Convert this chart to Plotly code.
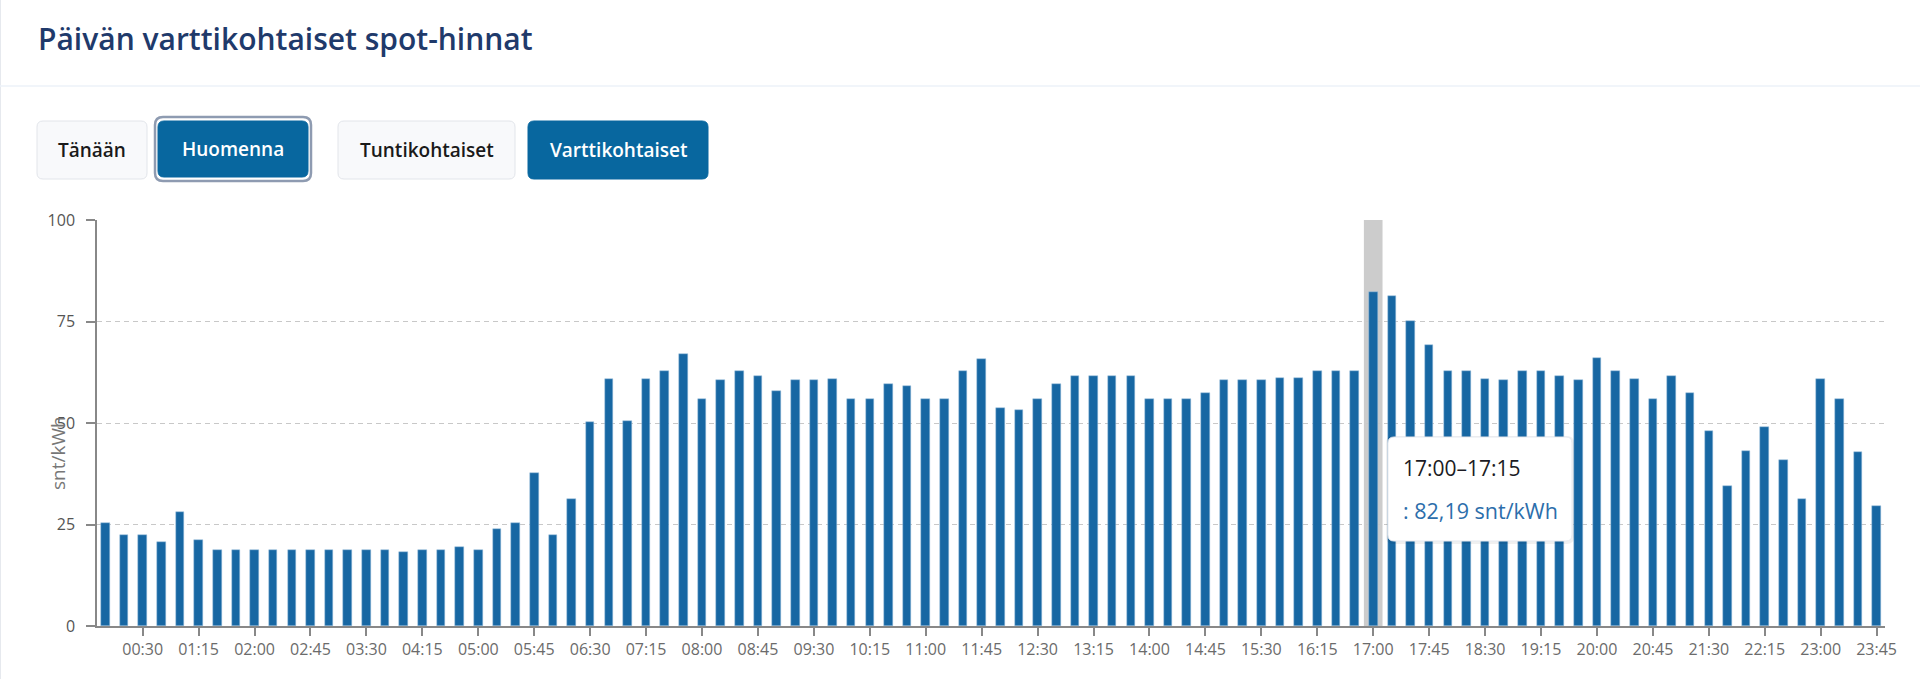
import plotly.graph_objects as go

# ---------------- data ----------------
times = [f"{h:02d}:{m:02d}" for h in range(24) for m in (0, 15, 30, 45)]

prices = [
    25.4, 22.4, 22.3, 20.6, 28.1, 21.1, 18.8, 18.8,   # 00:00-01:45
    18.8, 18.8, 18.8, 18.8, 18.8, 18.8, 18.8, 18.8,   # 02:00-03:45
    18.2, 18.8, 18.8, 19.5, 18.8, 23.8, 25.3, 37.6,   # 04:00-05:45
    22.3, 31.4, 50.2, 60.9, 50.6, 60.9, 62.7, 66.9,   # 06:00-07:45
    55.8, 60.7, 62.7, 61.5, 57.9, 60.7, 60.7, 60.9,   # 08:00-09:45
    55.8, 55.8, 59.6, 59.0, 55.8, 55.8, 62.8, 65.7,   # 10:00-11:45
    53.6, 53.2, 55.8, 59.6, 61.5, 61.5, 61.5, 61.5,   # 12:00-13:45
    55.8, 55.8, 55.8, 57.3, 60.6, 60.7, 60.7, 61.0,   # 14:00-15:45
    61.0, 62.7, 62.7, 62.9, 82.19, 81.4, 75.2, 69.3,  # 16:00-17:45
    62.7, 62.7, 60.9, 60.6, 62.8, 62.7, 61.5, 60.7,   # 18:00-19:45
    66.1, 62.7, 60.9, 55.8, 61.7, 57.4, 48.1, 34.4,   # 20:00-21:45
    43.2, 48.9, 40.8, 31.4, 60.9, 55.8, 42.9, 29.5,   # 22:00-23:45
]

xtick_labels = times[2::3]
ytick_values = [0, 25, 50, 75, 100]

title_text = "Päivän varttikohtaiset spot-hinnat"
buttons = ["Tänään", "Huomenna", "Tuntikohtaiset", "Varttikohtaiset"]
active_buttons = ["Huomenna", "Varttikohtaiset"]
unit_label = "snt/kWh"
highlight_time = "17:00"
tooltip_title = "17:00–17:15"

# ---------------- geometry helpers ----------------
FW, FH = 1920, 679
L, R, T, B = 97, 35, 220, 53
W = FW - L - R
H = FH - T - B

def xp(px):
    return (px - L) / W

def yp(py):
    return (T + H - py) / H

def rrect(x0, y0, x1, y1, r):
    a, b, c, d = xp(x0), xp(x1), yp(y0), yp(y1)
    rx, ry = r / W, r / H
    return (f"M {a+rx},{c} L {b-rx},{c} Q {b},{c} {b},{c-ry} L {b},{d+ry} "
            f"Q {b},{d} {b-rx},{d} L {a+rx},{d} Q {a},{d} {a},{d+ry} "
            f"L {a},{c-ry} Q {a},{c} {a+rx},{c} Z")

FONT = "Open Sans, Noto Sans, sans-serif"

fig = go.Figure()
fig.add_trace(go.Bar(
    x=times, y=prices, width=0.46,
    marker=dict(color="#1767a3", line=dict(color="#9fc0df", width=0.5)),
    hoverinfo="skip",
))

shapes = []
annotations = []

# card outline / separator
shapes.append(dict(type="line", xref="paper", yref="paper",
                   x0=xp(0.5), x1=xp(0.5), y0=yp(0), y1=yp(FH),
                   line=dict(color="#e6e9ee", width=1)))
shapes.append(dict(type="line", xref="paper", yref="paper",
                   x0=xp(0), x1=xp(FW), y0=yp(86), y1=yp(86),
                   line=dict(color="#edf2f8", width=1.5)))

# title
annotations.append(dict(text=title_text, xref="paper", yref="paper",
                        x=xp(36), y=yp(38), xanchor="left", yanchor="middle",
                        showarrow=False,
                        font=dict(family=FONT, size=30, color="#1f3a6b", weight=600)))

# buttons
btn_boxes = {
    "Tänään": (37, 121, 147, 179),
    "Huomenna": (158, 121, 308, 177),
    "Tuntikohtaiset": (338, 121, 515, 179),
    "Varttikohtaiset": (528, 121, 708, 179),
}
for name in buttons:
    x0, y0, x1, y1 = btn_boxes[name]
    active = name in active_buttons
    if name == "Huomenna":
        shapes.append(dict(type="path", xref="paper", yref="paper",
                           path=rrect(x0 - 3, y0 - 4, x1 + 3, y1 + 4, 8),
                           fillcolor="rgba(0,0,0,0)",
                           line=dict(color="#8e9bb1", width=2.5)))
    shapes.append(dict(type="path", xref="paper", yref="paper",
                       path=rrect(x0, y0, x1, y1, 6),
                       fillcolor="#08679f" if active else "#f8f9fb",
                       line=dict(color="#08679f" if active else "#e2e5ea", width=1)))
    annotations.append(dict(text=name, xref="paper", yref="paper",
                            x=xp((x0 + x1) / 2), y=yp((y0 + y1) / 2),
                            xanchor="center", yanchor="middle", showarrow=False,
                            font=dict(family=FONT, size=19,
                                      color="#ffffff" if active else "#1a1a1a",
                                      weight=600)))

# axis pointer shadow
hi = times.index(highlight_time)
shapes.append(dict(type="rect", xref="x", yref="paper",
                   x0=hi - 0.5, x1=hi + 0.5, y0=0, y1=1,
                   fillcolor="#cccccc", line=dict(width=0), layer="between"))

# tooltip
tx0, ty0, tx1, ty1 = 1388, 437, 1572, 541
shapes.append(dict(type="path", xref="paper", yref="paper",
                   path=rrect(tx0 - 2, ty0 - 1, tx1 + 2, ty1 + 3, 7),
                   fillcolor="rgba(0,0,0,0.06)", line=dict(width=0)))
shapes.append(dict(type="path", xref="paper", yref="paper",
                   path=rrect(tx0, ty0, tx1, ty1, 6),
                   fillcolor="#ffffff", line=dict(color="#e6e9ef", width=1)))
annotations.append(dict(text=tooltip_title, xref="paper", yref="paper",
                        x=xp(1401), y=yp(468), xanchor="left", yanchor="middle",
                        showarrow=False,
                        font=dict(family=FONT, size=21, color="#1b1b24")))
val_text = ": " + f"{prices[hi]:.2f}".replace(".", ",") + " " + unit_label
annotations.append(dict(text=val_text, xref="paper", yref="paper",
                        x=xp(1401), y=yp(510), xanchor="left", yanchor="middle",
                        showarrow=False,
                        font=dict(family=FONT, size=21.5, color="#2c6eab")))

# y axis title
annotations.append(dict(text=unit_label, xref="paper", yref="paper",
                        x=xp(58), y=yp(453), xanchor="center", yanchor="middle",
                        textangle=-90, showarrow=False,
                        font=dict(family=FONT, size=19, color="#777777")))

fig.update_layout(
    width=FW, height=FH,
    margin=dict(l=L, r=R, t=T, b=B, pad=0),
    paper_bgcolor="#ffffff", plot_bgcolor="#ffffff",
    showlegend=False, hovermode=False,
    bargap=0,
    shapes=shapes, annotations=annotations,
    font=dict(family=FONT),
)
fig.update_xaxes(
    type="category", range=[-0.45, len(times) - 0.55],
    tickvals=xtick_labels, ticktext=xtick_labels,
    showline=True, linecolor="#888888", linewidth=1.5,
    ticks="outside", ticklen=8, tickcolor="#888888", tickwidth=1.5,
    showgrid=False, zeroline=False,
    tickfont=dict(family=FONT, size=16, color="#6b6b6b"),
    fixedrange=True,
)
fig.update_yaxes(
    range=[0, 100], tickvals=ytick_values,
    showline=True, linecolor="#888888", linewidth=1.5,
    ticks="outside", ticklen=9, tickcolor="#888888", tickwidth=1.5,
    ticklabelstandoff=8,
    showgrid=True, gridcolor="#c8c8c8", griddash="5px,4px", gridwidth=1,
    zeroline=False,
    tickfont=dict(family=FONT, size=16, color="#555555"),
    fixedrange=True,
)

fig.write_html("out.html", config={"displayModeBar": False},
               post_script="document.body.style.margin='0';document.body.style.overflow='hidden';")
